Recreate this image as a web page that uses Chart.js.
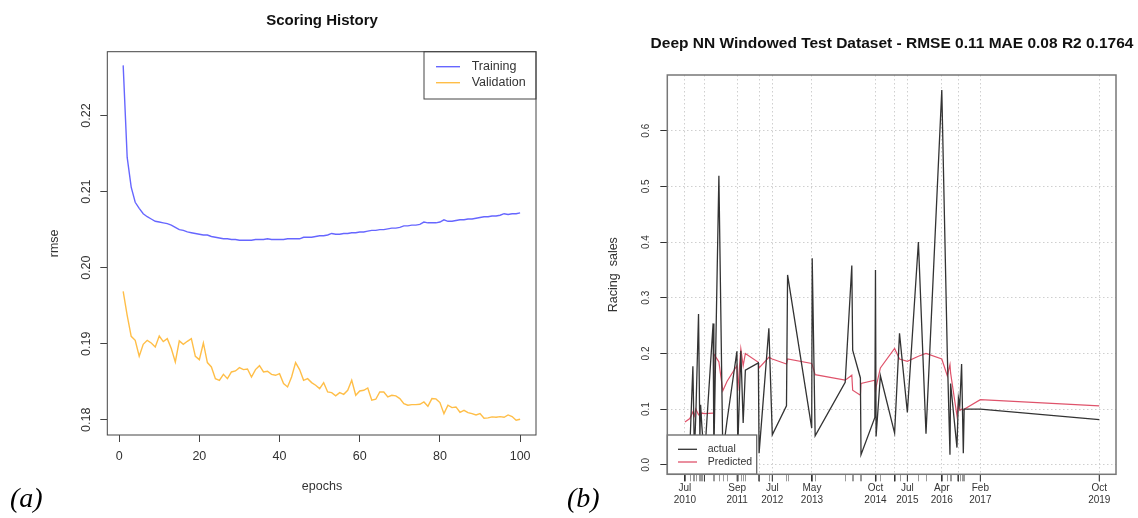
<!DOCTYPE html>
<html><head><meta charset="utf-8">
<script src="https://cdn.jsdelivr.net/npm/chart.js@4.4.0/dist/chart.umd.min.js"></script>
<style>
html,body{margin:0;padding:0;background:#fff;}
#wrap{position:relative;width:1138px;height:518px;overflow:hidden;background:#fff;}
canvas{position:absolute;left:0;top:0;}
</style></head><body>
<div id="wrap">
<canvas id="ca" width="1138" height="518" style="width:1138px;height:518px"></canvas>
<canvas id="cb" width="1138" height="518" style="width:1138px;height:518px"></canvas>
</div>
<script>
// ---------- Panel (a): Scoring History ----------
const epochs = Array.from({length:100},(_,i)=>i+1);
const trainingRmse = [
0.2266,0.2145,0.2106,0.2086,0.2078,0.2071,0.2067,0.2064,0.2061,0.2060,
0.2059,0.2058,0.2056,0.2053,0.2050,0.2049,0.2047,0.2046,0.2045,0.2044,
0.2043,0.2043,0.2041,0.2040,0.2039,0.2038,0.2038,0.2037,0.2037,0.2036,
0.2036,0.2036,0.2036,0.2037,0.2037,0.2037,0.2038,0.2037,0.2037,0.2037,
0.2037,0.2038,0.2038,0.2038,0.2038,0.2040,0.2040,0.2040,0.2041,0.2042,
0.2042,0.2043,0.2045,0.2044,0.2044,0.2045,0.2045,0.2046,0.2046,0.2047,
0.2047,0.2048,0.2049,0.2049,0.2050,0.2050,0.2051,0.2052,0.2052,0.2053,
0.2055,0.2055,0.2056,0.2056,0.2057,0.2060,0.2059,0.2059,0.2059,0.2060,
0.2063,0.2061,0.2061,0.2062,0.2063,0.2063,0.2064,0.2064,0.2065,0.2066,
0.2067,0.2067,0.2068,0.2068,0.2069,0.2071,0.2070,0.2071,0.2071,0.2072];
const validationRmse = [
0.19689,0.19374,0.19098,0.19045,0.18835,0.18993,0.19045,0.19010,0.18958,0.19102,
0.19028,0.19067,0.18936,0.18760,0.19037,0.18993,0.19032,0.19067,0.18835,0.18791,
0.19010,0.18752,0.18695,0.18541,0.18519,0.18598,0.18541,0.18629,0.18642,0.18686,
0.18660,0.18668,0.18563,0.18660,0.18712,0.18629,0.18638,0.18598,0.18585,0.18607,
0.18476,0.18432,0.18563,0.18752,0.18660,0.18519,0.18541,0.18489,0.18454,0.18410,
0.18489,0.18366,0.18357,0.18314,0.18357,0.18335,0.18388,0.18519,0.18322,0.18379,
0.18388,0.18419,0.18257,0.18270,0.18366,0.18366,0.18301,0.18322,0.18314,0.18279,
0.18213,0.18191,0.18200,0.18200,0.18204,0.18235,0.18178,0.18279,0.18275,0.18226,
0.18081,0.18191,0.18160,0.18169,0.18099,0.18125,0.18095,0.18081,0.18064,0.18081,
0.18020,0.18025,0.18038,0.18033,0.18042,0.18033,0.18064,0.18042,0.17994,0.18007];
const epochTicks = [0,20,40,60,80,100];
const rmseTicks = [0.18,0.19,0.20,0.21,0.22];

// ---------- Panel (b): Deep NN windowed test dataset ----------
const testDates = [
'2010-07-02','2010-08-11','2010-09-05','2010-09-17','2010-09-29','2010-10-21','2010-11-01','2010-11-07','2010-11-17','2010-12-08',
'2011-02-17','2011-02-23','2011-04-05','2011-05-07','2011-06-11','2011-08-30','2011-09-06','2011-10-01','2011-10-20','2011-11-07',
'2012-02-21','2012-02-27','2012-05-17','2012-06-14','2012-10-08','2012-10-17','2013-05-02','2013-05-06','2013-05-30','2014-01-30',
'2014-03-25','2014-04-01','2014-06-03','2014-06-08','2014-09-29','2014-10-04','2014-10-09','2014-11-13','2015-03-09','2015-04-18',
'2015-06-21','2015-09-19','2015-11-20','2016-03-28','2016-05-12','2016-06-03','2016-06-08','2016-07-30','2016-08-11','2016-08-22',
'2016-09-06','2016-09-20','2016-09-27','2017-02-06','2019-10-04'];
const actualSales = [
0.040,0.030,0.177,0.020,0.090,0.271,0.050,0.108,0.070,0.010,
0.254,0.020,0.519,0.020,0.080,0.204,0.030,0.205,0.075,0.170,
0.183,0.021,0.245,0.054,0.106,0.341,0.066,0.371,0.052,0.148,
0.358,0.206,0.156,0.018,0.085,0.350,0.051,0.160,0.057,0.236,
0.094,0.400,0.056,0.673,0.200,0.018,0.146,0.031,0.120,0.106,
0.181,0.021,0.100,0.100,0.081];
const predictedSales = [
0.077,0.083,0.095,0.088,0.100,0.090,0.092,0.088,0.093,0.092,
0.093,0.199,0.185,0.133,0.150,0.178,0.133,0.208,0.178,0.200,
0.184,0.174,0.193,0.190,0.181,0.190,0.182,0.180,0.162,0.152,
0.161,0.134,0.125,0.146,0.152,0.130,0.140,0.174,0.209,0.190,
0.186,0.195,0.200,0.190,0.160,0.180,0.165,0.088,0.110,0.098,
0.100,0.098,0.100,0.117,0.106];
const dateTicks = ['2010-07-02','2010-12-08','2011-09-01','2012-02-27','2012-06-14','2013-05-04','2014-10-04','2015-03-09','2015-06-21','2016-03-28','2016-08-11','2017-02-06','2019-10-04'];
const dateTickLabels = ['Jul\n2010','','Sep\n2011','','Jul\n2012','May\n2013','Oct\n2014','','Jul\n2015','Apr\n2016','','Feb\n2017','Oct\n2019'];
const salesTicks = [0,0.1,0.2,0.3,0.4,0.5,0.6];

function toYear(s){
  const [y,m,d]=s.split('-').map(Number);
  const t0=Date.UTC(y,0,1), t1=Date.UTC(y+1,0,1);
  return y + (Date.UTC(y,m-1,d)-t0)/(t1-t0);
}

const SANS = '"Liberation Sans", Arial, Helvetica, sans-serif';
Chart.defaults.font.family = SANS;
Chart.defaults.color = '#333';

function rotText(ctx, txt, x, y){
  ctx.save(); ctx.translate(x,y); ctx.rotate(-Math.PI/2); ctx.fillText(txt,0,0); ctx.restore();
}

// ---------- chart A ----------
const panelA = {
  id:'panelA',
  afterDraw(chart){
    const {ctx, chartArea:ca, scales:{y}} = chart;
    ctx.save();
    // legend
    const lx=424, ly=ca.top, lw=ca.right-424, lh=47.3;
    ctx.fillStyle='#fff'; ctx.fillRect(lx,ly,lw,lh);
    ctx.strokeStyle='#444'; ctx.lineWidth=1; ctx.strokeRect(lx,ly,lw,lh);
    ctx.lineWidth=1.4;
    ctx.strokeStyle='rgba(0,0,255,0.6)'; ctx.beginPath(); ctx.moveTo(436,66.7); ctx.lineTo(460,66.7); ctx.stroke();
    ctx.strokeStyle='rgba(255,165,0,0.72)'; ctx.beginPath(); ctx.moveTo(436,82.7); ctx.lineTo(460,82.7); ctx.stroke();
    ctx.fillStyle='#333'; ctx.font='12.5px '+SANS; ctx.textAlign='left'; ctx.textBaseline='middle';
    ctx.fillText('Training',471.7,66.7);
    ctx.fillText('Validation',471.7,82.7);
    // box
    ctx.strokeStyle='#444'; ctx.lineWidth=1;
    ctx.strokeRect(ca.left, ca.top, ca.right-ca.left, ca.bottom-ca.top);
    // y tick labels (rotated, R style)
    ctx.textAlign='center'; ctx.textBaseline='middle'; ctx.font='12.5px '+SANS;
    rmseTicks.forEach(v=>rotText(ctx, v.toFixed(2), 86.5, y.getPixelForValue(v)));
    // axis titles
    rotText(ctx, 'rmse', 55, (ca.top+ca.bottom)/2);
    ctx.fillText('epochs', 322, 487);
    // main title
    ctx.fillStyle='#111'; ctx.font='bold 15px '+SANS;
    ctx.fillText('Scoring History', 322, 21);
    // panel tag
    ctx.fillStyle='#000'; ctx.font='italic 28px "Liberation Serif", "Times New Roman", serif';
    ctx.textAlign='left'; ctx.textBaseline='alphabetic';
    ctx.fillText('(a)', 10, 507);
    ctx.restore();
  }
};

new Chart(document.getElementById('ca'), {
  type:'line',
  data:{
    datasets:[
      {label:'Training', data: epochs.map((e,i)=>({x:e,y:trainingRmse[i]})), borderColor:'rgba(0,0,255,0.6)', borderWidth:1.4, pointRadius:0, tension:0, fill:false},
      {label:'Validation', data: epochs.map((e,i)=>({x:e,y:validationRmse[i]})), borderColor:'rgba(255,165,0,0.72)', borderWidth:1.4, pointRadius:0, tension:0, fill:false}
    ]
  },
  options:{
    responsive:false, animation:false, devicePixelRatio:1,
    layout:{padding:{left:0, top:51.7, right:602, bottom:0}},
    plugins:{legend:{display:false}, title:{display:false}, tooltip:{enabled:false}},
    scales:{
      x:{type:'linear', min:-2.96, max:103.96,
         afterBuildTicks:s=>{s.ticks=epochTicks.map(v=>({value:v}));},
         afterFit:s=>{s.height=83;},
         grid:{drawOnChartArea:false, drawTicks:true, tickLength:7, tickColor:'#444', lineWidth:1},
         border:{display:false},
         ticks:{autoSkip:false, maxRotation:0, minRotation:0, padding:7.5, color:'#333', font:{size:12.5}, callback:v=>String(v)}},
      y:{type:'linear', min:0.1780, max:0.2284,
         afterBuildTicks:s=>{s.ticks=rmseTicks.map(v=>({value:v}));},
         afterFit:s=>{s.width=107.3;},
         grid:{drawOnChartArea:false, drawTicks:true, tickLength:7, tickColor:'#444', lineWidth:1},
         border:{display:false},
         ticks:{display:false}}
    }
  },
  plugins:[panelA]
});

// ---------- chart B ----------
const panelB = {
  id:'panelB',
  afterDraw(chart){
    const {ctx, chartArea:ca, scales:{x,y}} = chart;
    ctx.save();
    // rug of observation dates
    ctx.strokeStyle='#9a9a9a'; ctx.lineWidth=1;
    testDates.forEach(d=>{ const px=Math.round(x.getPixelForValue(toYear(d)))+0.5; ctx.beginPath(); ctx.moveTo(px,ca.bottom); ctx.lineTo(px,ca.bottom+7); ctx.stroke(); });
    // major ticks again in dark on top
    ctx.strokeStyle='#333';
    dateTicks.forEach(d=>{ const px=x.getPixelForValue(toYear(d)); ctx.beginPath(); ctx.moveTo(px,ca.bottom); ctx.lineTo(px,ca.bottom+7); ctx.stroke(); });
    // legend
    const lx=ca.left, ly=435, lw=756.7-ca.left, lh=ca.bottom-435;
    ctx.fillStyle='#fff'; ctx.fillRect(lx,ly,lw,lh);
    ctx.strokeStyle='#666'; ctx.lineWidth=1.3; ctx.strokeRect(lx,ly,lw,lh);
    ctx.lineWidth=1.3;
    ctx.strokeStyle='#333'; ctx.beginPath(); ctx.moveTo(678,449.3); ctx.lineTo(697,449.3); ctx.stroke();
    ctx.strokeStyle='#DF536B'; ctx.beginPath(); ctx.moveTo(678,462); ctx.lineTo(697,462); ctx.stroke();
    ctx.fillStyle='#333'; ctx.font='10.5px '+SANS; ctx.textAlign='left'; ctx.textBaseline='middle';
    ctx.fillText('actual',707.7,449.3);
    ctx.fillText('Predicted',707.7,462);
    // box
    ctx.strokeStyle='#777'; ctx.lineWidth=1.5;
    ctx.strokeRect(ca.left, ca.top, ca.right-ca.left, ca.bottom-ca.top);
    // y tick labels rotated
    ctx.fillStyle='#333'; ctx.textAlign='center'; ctx.textBaseline='middle'; ctx.font='10px '+SANS;
    salesTicks.forEach(v=>rotText(ctx, v.toFixed(1), 646, y.getPixelForValue(v)));
    ctx.font='12.5px '+SANS;
    rotText(ctx, 'Racing  sales', 614, (ca.top+ca.bottom)/2);
    // title
    ctx.fillStyle='#111'; ctx.font='bold 15.5px '+SANS;
    ctx.fillText('Deep NN Windowed Test Dataset - RMSE 0.11 MAE 0.08 R2 0.1764', 892, 44);
    // panel tag
    ctx.fillStyle='#000'; ctx.font='italic 28px "Liberation Serif", "Times New Roman", serif';
    ctx.textAlign='left'; ctx.textBaseline='alphabetic';
    ctx.fillText('(b)', 567, 507);
    ctx.restore();
  }
};

new Chart(document.getElementById('cb'), {
  type:'line',
  data:{
    datasets:[
      {label:'actual', data: testDates.map((d,i)=>({x:toYear(d), y:actualSales[i]})), borderColor:'#333', borderWidth:1.3, pointRadius:0, tension:0, fill:false},
      {label:'Predicted', data: testDates.map((d,i)=>({x:toYear(d), y:predictedSales[i]})), borderColor:'#DF536B', borderWidth:1.2, pointRadius:0, tension:0, fill:false}
    ]
  },
  options:{
    responsive:false, animation:false, devicePixelRatio:1,
    layout:{padding:{left:0, top:75, right:22, bottom:0}},
    plugins:{legend:{display:false}, title:{display:false}, tooltip:{enabled:false}},
    scales:{
      x:{type:'linear', min:2010.105, max:2020.13,
         afterBuildTicks:s=>{s.ticks=dateTicks.map(d=>({value:toYear(d)}));},
         afterFit:s=>{s.height=518-474.3;},
         grid:{drawOnChartArea:true, color:'#cfcfcf', drawTicks:true, tickLength:7, tickColor:'#333', lineWidth:1},
         border:{display:false, dash:[1.5,2.5]},
         ticks:{autoSkip:false, maxRotation:0, minRotation:0, padding:1, color:'#333', font:{size:10, lineHeight:1.17},
                callback:(v,i)=>dateTickLabels[i] ? dateTickLabels[i].split('\n') : ''}},
      y:{type:'linear', min:-0.017, max:0.70,
         afterBuildTicks:s=>{s.ticks=salesTicks.map(v=>({value:v}));},
         afterFit:s=>{s.width=667.3;},
         grid:{drawOnChartArea:true, color:'#cfcfcf', drawTicks:true, tickLength:7, tickColor:'#333', lineWidth:1},
         border:{display:false, dash:[1.5,2.5]},
         ticks:{display:false}}
    }
  },
  plugins:[panelB]
});
</script>
</body></html>
